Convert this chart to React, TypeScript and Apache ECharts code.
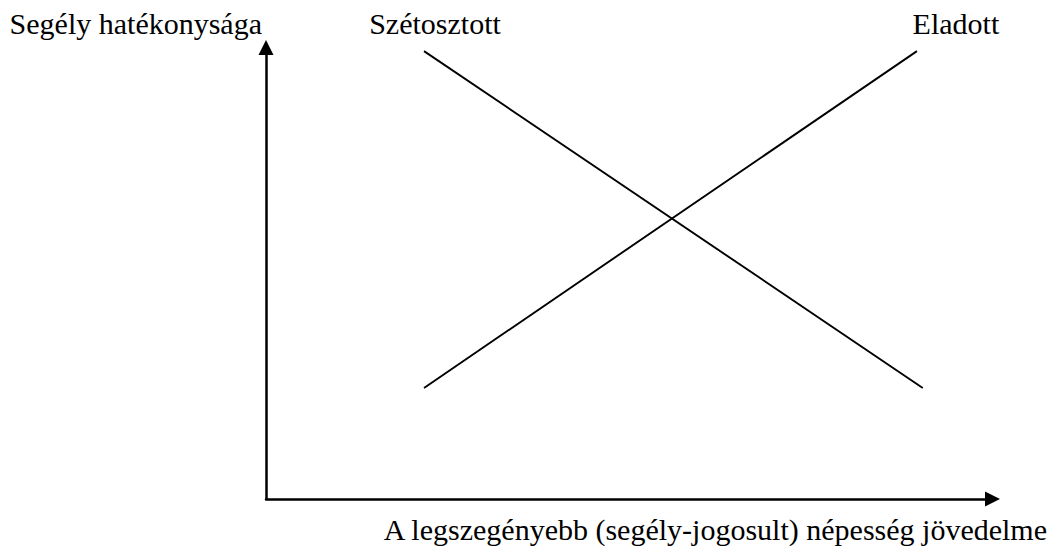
import React, { useEffect, useRef } from "react";
import * as echarts from "echarts";

const yAxisTitle = "Segély hatékonysága";
const xAxisTitle = "A legszegényebb (segély-jogosult) népesség jövedelme";
const seriesNames = ["Szétosztott", "Eladott"];
// [x, y] points of each line (x: income, y: efficiency), arbitrary units 0-100
const distributedX = [21.75, 90.4];
const distributedY = [99.2, 24.6];
const soldX = [21.75, 89.6];
const soldY = [24.6, 99.2];
// index of the point carrying the series name label
const labelPointIndex = [0, 1];

const FONT = "Liberation Serif";

export default function App() {
  const ref = useRef<HTMLDivElement>(null);
  useEffect(() => {
    if (!ref.current) return;
    const chart = echarts.init(ref.current, null, { renderer: "svg" });
    const mk = (xs: number[], ys: number[], li: number) =>
      xs.map((x, i) =>
        i === li
          ? { value: [x, ys[i]], label: { show: true } }
          : { value: [x, ys[i]] }
      );
    chart.setOption({
      animation: false,
      backgroundColor: "#ffffff",
      textStyle: { fontFamily: FONT },
      grid: { left: 266, top: 47.5, right: 57.5, bottom: 47, containLabel: false },
      xAxis: {
        type: "value",
        min: 0,
        max: 100,
        name: xAxisTitle,
        nameLocation: "end",
        nameGap: 54.5,
        nameTextStyle: {
          fontFamily: FONT,
          fontSize: 30,
          color: "#000",
          align: "right",
          verticalAlign: "top",
          padding: [15, 0, 0, 0],
        },
        axisLine: {
          show: true,
          symbol: ["none", "triangle"],
          symbolSize: [15, 15],
          lineStyle: { color: "#000", width: 2.5 },
        },
        axisTick: { show: false },
        axisLabel: { show: false },
        splitLine: { show: false },
      },
      yAxis: {
        type: "value",
        min: 0,
        max: 100,
        name: yAxisTitle,
        nameLocation: "end",
        nameGap: 9,
        nameTextStyle: {
          fontFamily: FONT,
          fontSize: 30,
          color: "#000",
          align: "right",
          verticalAlign: "bottom",
          padding: [0, 4, 0, 0],
        },
        axisLine: {
          show: true,
          symbol: ["none", "triangle"],
          symbolSize: [15, 15],
          lineStyle: { color: "#000", width: 2.5 },
        },
        axisTick: { show: false },
        axisLabel: { show: false },
        splitLine: { show: false },
      },
      series: [
        {
          name: seriesNames[0],
          type: "line",
          data: mk(distributedX, distributedY, labelPointIndex[0]),
          symbol: "circle",
          symbolSize: 0,
          showSymbol: true,
          lineStyle: { color: "#000", width: 1.9 },
          itemStyle: { color: "#000" },
          label: {
            show: false,
            position: "top",
            distance: 13,
            offset: [11, 0],
            formatter: () => seriesNames[0],
            fontFamily: FONT,
            fontSize: 30,
            color: "#000",
          },
        },
        {
          name: seriesNames[1],
          type: "line",
          data: mk(soldX, soldY, labelPointIndex[1]),
          symbol: "circle",
          symbolSize: 0,
          showSymbol: true,
          lineStyle: { color: "#000", width: 1.9 },
          itemStyle: { color: "#000" },
          label: {
            show: false,
            position: "top",
            distance: 13,
            offset: [39, 0],
            formatter: () => seriesNames[1],
            fontFamily: FONT,
            fontSize: 30,
            color: "#000",
          },
        },
      ],
    });
    return () => chart.dispose();
  }, []);
  return (
    <div
      ref={ref}
      style={{ position: "absolute", left: 0, top: 0, width: 1050, height: 546, background: "#fff" }}
    />
  );
}
